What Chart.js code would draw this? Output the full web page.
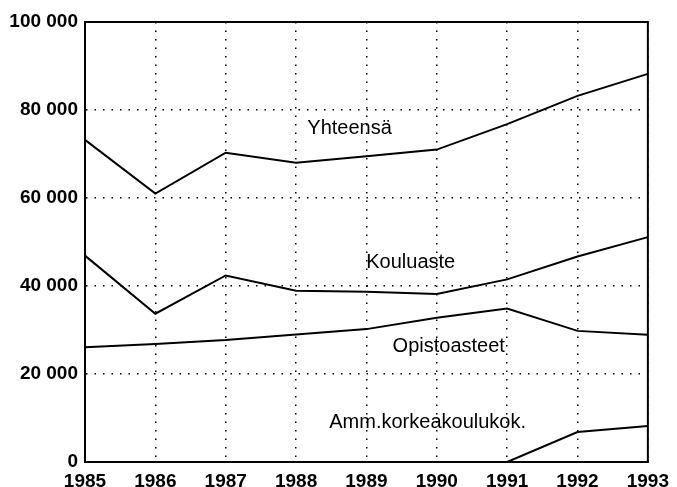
<!DOCTYPE html>
<html>
<head>
<meta charset="utf-8">
<script src="https://cdn.jsdelivr.net/npm/chart.js@4/dist/chart.umd.min.js"></script>
<style>
  html, body { margin: 0; padding: 0; background: #fff; }
  #chart { display: block; }
</style>
</head>
<body>
<canvas id="chart" width="677" height="487"></canvas>
<script>
const years = ['1985', '1986', '1987', '1988', '1989', '1990', '1991', '1992', '1993']
const yhteensa = [73200, 61000, 70300, 68000, 69500, 71000, 76800, 83200, 88200]
const kouluaste = [46900, 33700, 42400, 38900, 38700, 38200, 41500, 46700, 51100]
const opistoasteet = [26100, 26800, 27700, 29000, 30200, 32800, 34900, 29800, 28900]
const ammKorkeakoulu = [null, null, null, null, null, null, 0, 6800, 8200]
const yTicks = [0, 20000, 40000, 60000, 80000, 100000]

// text labels placed in data units (x = year index, y = value)
const seriesLabels = [
  { text: 'Yhteensä', x: 3.76, y: 75700 },
  { text: 'Kouluaste', x: 4.63, y: 45400 },
  { text: 'Opistoasteet', x: 5.17, y: 26300 },
  { text: 'Amm.korkeakoulukok.', x: 4.87, y: 8900 },
]

const FONT = '"Liberation Sans", Arial, Helvetica, sans-serif'

const line = (data) => ({
  data,
  borderColor: '#000',
  borderWidth: 2,
  pointRadius: 0,
  tension: 0,
  fill: false,
})

const frameAndLabels = {
  id: 'frameAndLabels',
  afterDatasetsDraw(chart) {
    const { ctx, chartArea: a, scales } = chart
    ctx.save()
    ctx.strokeStyle = '#000'
    ctx.lineWidth = 2
    ctx.strokeRect(a.left, a.top, a.right - a.left, a.bottom - a.top)
    ctx.fillStyle = '#000'
    ctx.font = '20px ' + FONT
    ctx.textAlign = 'center'
    ctx.textBaseline = 'middle'
    seriesLabels.forEach((l) => {
      ctx.fillText(l.text, scales.x.getPixelForValue(l.x), scales.y.getPixelForValue(l.y))
    })
    ctx.restore()
  },
}

const ctx = document.getElementById('chart').getContext('2d')
new Chart(ctx, {
  type: 'line',
  data: {
    labels: years,
    datasets: [line(yhteensa), line(kouluaste), line(opistoasteet), line(ammKorkeakoulu)],
  },
  options: {
    responsive: false,
    animation: false,
    layout: { padding: { left: 0, right: 25, top: 22, bottom: 0 } },
    plugins: { legend: { display: false }, tooltip: { enabled: false } },
    scales: {
      x: {
        afterFit: (scale) => { scale.height = 25 },
        grid: { color: '#000', lineWidth: 1.5, drawTicks: false },
        border: { color: '#000', width: 2, dash: [1.5, 7] },
        ticks: {
          color: '#000',
          padding: 8,
          maxRotation: 0,
          autoSkip: false,
          font: { family: FONT, size: 19, weight: 'bold' },
        },
      },
      y: {
        min: 0,
        max: 100000,
        afterFit: (scale) => { scale.width = 85 },
        afterBuildTicks: (scale) => { scale.ticks = yTicks.map((v) => ({ value: v })) },
        grid: { color: '#000', lineWidth: 1.5, drawTicks: false },
        border: { color: '#000', width: 2, dash: [1.5, 7] },
        ticks: {
          color: '#000',
          padding: 7,
          font: { family: FONT, size: 19, weight: 'bold' },
          callback: (value) => String(value).replace(/\B(?=(\d{3})+(?!\d))/g, ' '),
        },
      },
    },
  },
  plugins: [frameAndLabels],
})
</script>
</body>
</html>
